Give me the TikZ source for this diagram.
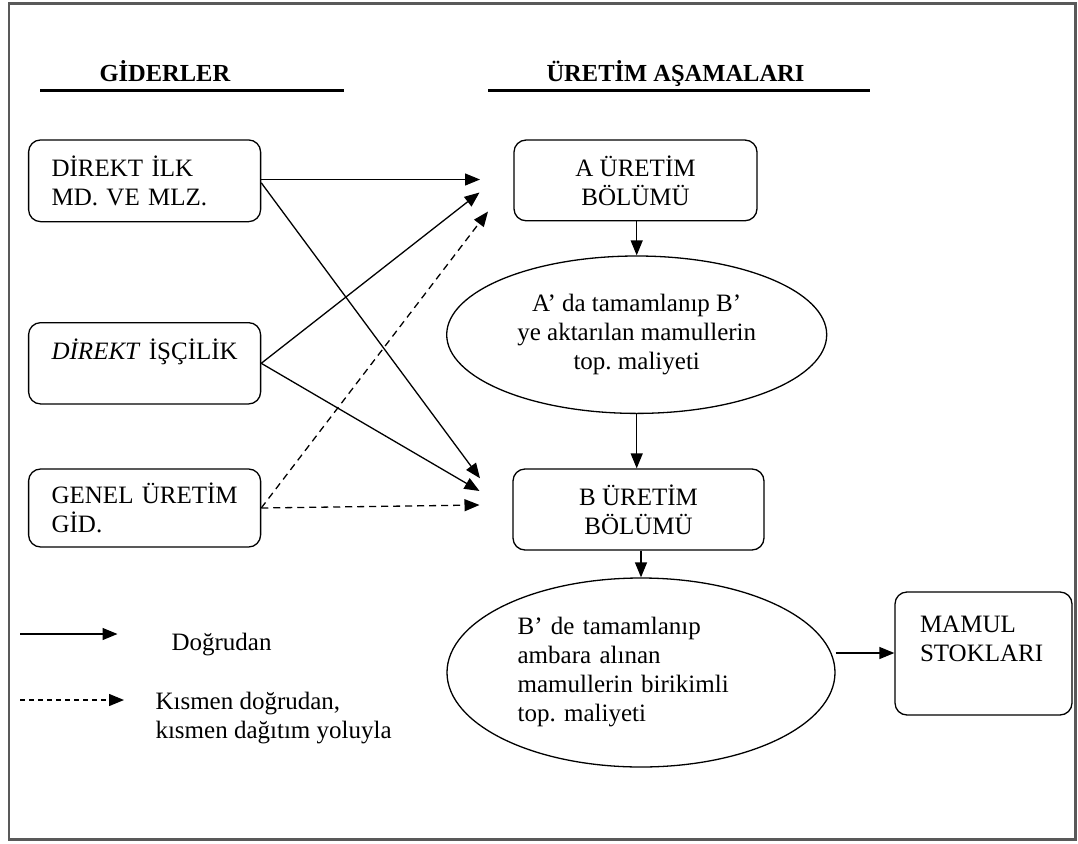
\documentclass[tikz,border=0pt]{standalone}
\usepackage{fontspec}
\setmainfont{Liberation Serif}
\usetikzlibrary{arrows.meta,shapes.geometric}
\frenchspacing
\begin{document}
\begin{tikzpicture}[x=1pt,y=-1pt,
  every node/.style={font=\fontsize{25}{29}\selectfont},
  box/.style={draw, line width=1.3pt, rounded corners=12pt, inner sep=0pt},
  oval/.style={draw, ellipse, line width=1.3pt, inner sep=0pt},
  arr/.style={line width=1.3pt, -{Triangle[length=15pt,width=12pt]}},
  darr/.style={arr, dash pattern=on 7pt off 5pt},
  head/.style={font=\fontsize{24.5}{29}\selectfont\bfseries, anchor=base west},
  rulebar/.style={line width=3pt}]

\useasboundingbox (0,0) rectangle (1078,843);
\draw[black!65, line width=2.5pt] (9,3.5) rectangle (1075.5,839.5);

% column headers
\node[head] (hG) at (96,81.7) {GİDERLER};
\draw[rulebar] (40,90) -- (344,90);
\node[head] (hU) at (543,81.7) {ÜRETİM AŞAMALARI};
\draw[rulebar] (488,90) -- (870,90);

% cost items
\node[box, minimum width=232pt, minimum height=81.7pt, text width=186pt, align=left]
  (dm) at (144.6,180.8) {\mbox{DİREKT İLK}\\\mbox{MD. VE MLZ.}};
\node[box, minimum width=232pt, minimum height=81.3pt, text width=186pt, align=left]
  (di) at (144.6,363.3) {\mbox{\textit{DİREKT} İŞÇİLİK}\\\mbox{}};
\node[box, minimum width=232pt, minimum height=78pt, text width=186pt, align=left]
  (gu) at (144.6,508) {\mbox{GENEL ÜRETİM}\\\mbox{GİD.}};

% production stages
\node[box, minimum width=243pt, minimum height=80.7pt, align=center]
  (pa) at (635.5,180.4) {A ÜRETİM\\BÖLÜMÜ};
\node[oval, minimum width=380pt, minimum height=157.4pt, align=center]
  (ea) at (636.7,334.7) {A’ da tamamlanıp B’\\ye aktarılan mamullerin\\top. maliyeti};
\node[box, minimum width=251pt, minimum height=81pt, align=center]
  (pb) at (638.5,509.5) {B ÜRETİM\\BÖLÜMÜ};
\node[oval, minimum width=388pt, minimum height=189pt, text width=246.8pt, align=left]
  (eb) at (641,672.5) {B’ de tamamlanıp\\ambara alınan\\mamullerin birikimli\\top. maliyeti};
\node[box, minimum width=177pt, minimum height=123pt, text width=127pt, align=left]
  (ms) at (983.5,653.5) {MAMUL\\STOKLARI\\\mbox{}};

% arrow targets in front of the two departments
\coordinate (ta1) at (480,179.5);
\coordinate (ta2) at (479.5,192.5);
\coordinate (ta3) at (488,211.5);
\coordinate (tb1) at (480,478.3);
\coordinate (tb2) at (479.5,491);
\coordinate (tb3) at (479.5,505);

% cost flows
\draw[arr] (dm.east |- ta1) -- (ta1);
\draw[arr] ([yshift=-2pt]dm.east) -- (tb1);
\draw[arr] (di.east) -- (ta2);
\draw[arr] (di.east) -- (tb2);
\draw[darr] (gu.east) -- (ta3);
\draw[darr] (gu.east) -- (tb3);

% production flow
\draw[arr] (ea.north |- pa.south) -- (ea.north);
\draw[arr] (ea.south) -- (ea.south |- pb.north);
\draw[arr] (eb.north |- pb.south) -- (eb.north);
\draw[arr] ([yshift=19.5pt]eb.east) -- ([yshift=19.5pt]eb.east -| ms.west);

% legend
\coordinate (l1a) at (20,634);
\coordinate (l1b) at (117.5,634);
\draw[arr] (l1a) -- (l1b);
\node[anchor=base west] (ld) at (168,650) {Doğrudan};
\coordinate (l2a) at (20,700);
\coordinate (l2b) at (124,700);
\draw[darr, dash pattern=on 5pt off 4pt] (l2a) -- (l2b);
\node[anchor=base west, align=left] (lk) at (152,738.5) {Kısmen doğrudan,\\kısmen dağıtım yoluyla};
\end{tikzpicture}
\end{document}
